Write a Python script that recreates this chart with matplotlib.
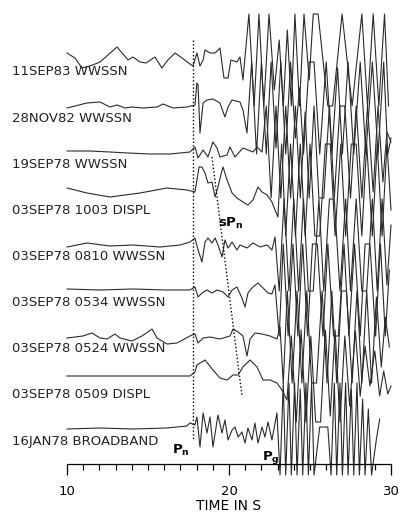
import numpy as np
import matplotlib.pyplot as plt

plt.rcParams['mathtext.fontset'] = 'dejavusans'

# ==== 標籤與基線 ====
names = ['11SEP83 WWSSN', '28NOV82 WWSSN', '19SEP78 WWSSN', '03SEP78 1003 DISPL',
         '03SEP78 0810 WWSSN', '03SEP78 0534 WWSSN', '03SEP78 0524 WWSSN',
         '03SEP78 0509 DISPL', '16JAN78 BROADBAND']
baselines = [60, 108, 152, 190, 245, 290, 337, 376, 429]
label_y = [71.5, 118, 164, 211, 256, 302, 348, 395, 442]
clip_amp = 46

# ==== 波形 (時間 s, 振幅) ====
trace1 = [(10.00, 7), (10.49, 2), (10.93, -8), (11.42, -6), (12.04, -2), (12.53, 5), (13.09, 13),
          (13.40, 7), (13.77, 0), (14.07, 3), (14.51, -2), (14.88, -3), (15.43, 3), (15.86, -8),
          (16.23, 0), (16.67, 7), (17.10, 2), (17.59, -4), (17.78, -6), (18.02, 7), (18.21, -6),
          (18.40, 0), (18.52, 10), (18.83, 7), (19.14, 7), (19.44, 12), (19.69, -18), (19.94, -18),
          (20.12, 0), (20.49, -2), (20.68, 3), (20.86, -20), (21.23, 70), (21.55, -70), (21.85, 70),
          (22.15, -70), (22.47, 70), (22.80, -30), (23.10, 20), (23.35, -60), (23.60, 30),
          (23.85, -70), (24.07, 70), (24.35, -70), (24.63, 70), (24.95, -20), (25.20, 75),
          (25.50, 75), (26.10, -75), (26.40, -75), (26.98, 70), (27.60, -70), (28.20, 70),
          (28.55, -70), (28.90, 70), (29.25, -70), (29.60, 70), (29.85, -50)]
trace2 = [(10.00, 0), (11.23, 5), (12.04, 6), (12.65, 1), (13.09, 3), (13.58, 0), (14.01, 1),
          (14.69, 0), (15.56, 1), (15.93, 4), (16.54, 0), (17.41, 1), (17.90, 3), (18.02, 25),
          (18.09, 23), (18.21, -25), (18.40, 5), (18.64, 8), (19.01, 9), (19.44, 5), (19.75, -9),
          (19.94, 1), (20.19, 8), (20.68, 6), (20.86, -2), (21.11, -25), (21.40, 70), (21.70, -70),
          (22.00, 70), (22.30, -70), (22.60, 60), (22.90, -40), (23.20, 70), (23.50, -70),
          (23.80, 70), (24.10, -30), (24.35, 20), (24.60, -70), (24.95, 75), (25.25, 75),
          (25.60, -70), (26.00, 70), (26.35, -70), (26.70, 40), (27.00, -70), (27.35, 70),
          (27.70, -70), (28.10, 70), (28.45, -70), (28.85, 70), (29.20, -70), (29.55, 60),
          (29.80, -50), (30.00, -30)]
trace3 = [(10.00, 1), (11.42, 1), (12.65, 0), (13.77, -1), (15.12, -2), (16.36, -2), (17.59, 0),
          (17.90, 5), (18.09, -6), (18.40, 2), (18.70, -5), (19.01, 10), (19.26, 4), (19.44, -5),
          (19.88, -3), (20.06, 5), (20.37, -5), (20.86, 4), (21.17, 2), (21.48, 0), (21.73, 5),
          (22.04, 0), (22.30, 70), (22.60, -70), (22.90, 70), (23.20, -60), (23.50, 70),
          (23.80, -70), (24.10, 65), (24.40, -70), (24.70, 40), (24.95, -60), (25.25, 70),
          (25.55, -75), (25.85, -75), (26.20, 70), (26.50, -70), (26.85, 75), (27.15, 75),
          (27.50, -70), (27.85, 70), (28.20, -70), (28.55, 70), (28.90, -40), (29.20, 50),
          (29.50, -30), (29.75, 20), (30.00, 10)]
trace4 = [(10.00, 2), (11.23, -3), (12.65, -7), (14.51, -3), (16.17, 2), (17.41, 0), (17.90, -2),
          (18.15, 23), (18.33, 23), (18.52, 17), (18.70, 7), (18.95, 8), (19.14, -7), (19.32, 3),
          (19.57, 20), (19.63, 23), (19.88, 10), (20.19, -3), (20.49, -8), (20.86, -12),
          (21.17, -15), (21.48, -10), (21.79, 3), (22.04, -2), (22.35, -5), (22.65, -12),
          (22.84, -20), (23.02, -27), (23.25, 60), (23.50, -70), (23.80, 70), (24.10, -70),
          (24.40, 70), (24.70, -70), (25.00, 70), (25.30, -75), (25.60, -75), (25.95, 70),
          (26.25, 75), (26.55, -70), (26.90, 70), (27.20, -70), (27.55, 75), (27.85, 75),
          (28.20, -70), (28.50, 70), (28.85, -70), (29.15, 60), (29.45, -60), (29.75, 50),
          (30.00, -20)]
trace5 = [(10.00, -2), (11.23, 2), (12.65, -1), (14.07, 0), (15.74, -2), (16.98, 0), (17.59, 3),
          (17.90, 7), (18.09, -5), (18.33, -17), (18.52, 3), (18.70, 7), (18.95, 2), (19.14, 7),
          (19.32, 0), (19.57, -12), (19.75, 5), (19.94, -3), (20.19, 3), (20.49, -5), (20.68, 0),
          (21.11, -3), (21.48, 2), (21.91, -2), (22.35, 0), (22.65, -5), (22.84, 8), (23.10, -70),
          (23.40, 70), (23.70, -70), (24.00, 70), (24.30, -65), (24.60, 70), (24.90, -75),
          (25.20, -75), (25.55, 70), (25.85, -70), (26.20, 75), (26.50, 75), (26.85, -70),
          (27.20, 70), (27.50, -70), (27.85, 70), (28.20, -75), (28.50, -75), (28.85, 70),
          (29.15, -60), (29.45, 60), (29.75, -40), (30.00, 20)]
trace6 = [(10.00, 1), (12.04, 0), (14.07, 1), (16.17, 0), (17.59, 0), (17.90, 3), (18.09, -7),
          (18.33, -3), (18.64, 0), (18.95, -3), (19.26, 0), (19.63, -2), (19.94, -7), (20.19, 0),
          (20.49, 3), (20.80, -8), (20.99, -17), (21.17, -3), (21.48, 3), (21.79, 7), (22.10, 2),
          (22.41, -3), (22.65, -4), (22.84, 5), (23.10, -60), (23.35, 60), (23.65, -70),
          (23.95, 70), (24.25, -70), (24.55, 70), (24.85, -70), (25.15, 75), (25.45, 75),
          (25.80, -70), (26.10, 70), (26.45, -75), (26.75, -75), (27.10, 70), (27.40, -70),
          (27.75, 70), (28.10, -70), (28.40, 75), (28.70, 75), (29.05, -70), (29.35, 50),
          (29.65, -50), (29.90, 20)]
trace7 = [(10.00, -1), (10.98, 1), (11.54, 4), (12.04, -1), (12.47, -2), (12.96, 3), (13.27, -1),
          (14.01, -4), (14.63, 1), (15.25, 8), (15.56, -1), (16.17, -7), (16.79, -6), (17.59, 1),
          (17.90, 3), (18.09, -6), (18.40, -1), (18.83, 0), (19.44, -2), (20.06, 1), (20.25, 8),
          (20.56, 5), (20.86, 1), (21.11, -19), (21.30, -2), (21.60, 4), (22.04, 3), (22.53, 1),
          (22.96, -2), (23.15, 10), (23.35, -60), (23.60, 60), (23.90, -70), (24.20, 70),
          (24.50, -70), (24.80, 70), (25.10, -75), (25.40, -75), (25.75, 70), (26.05, -70),
          (26.35, 70), (26.65, -60), (26.95, 75), (27.25, 75), (27.60, -70), (27.90, 60),
          (28.20, -70), (28.50, 60), (28.80, -50), (29.10, 40), (29.40, -30), (29.65, 20),
          (29.90, -10)]
trace8 = [(10.00, 0), (17.59, 0), (17.90, 4), (18.02, 11), (18.52, 16), (19.01, 6), (19.44, -2),
          (19.88, -4), (20.25, 1), (20.56, 1), (20.86, 9), (21.30, 16), (21.73, 9), (22.10, -4),
          (22.53, -4), (22.96, -7), (23.27, -14), (23.58, -24), (23.85, 40), (24.15, -50),
          (24.45, 50), (24.75, -60), (25.05, 40), (25.35, -70), (25.65, -70), (25.95, 50),
          (26.25, -40), (26.55, 60), (26.85, -60), (27.15, 40), (27.45, -30), (27.80, 45),
          (28.10, -20), (28.40, 30), (28.70, -10), (29.00, 25), (29.30, -20), (29.55, 5),
          (29.80, -18), (30.00, -10)]
trace9 = [(10.00, 0), (12.04, 1), (14.07, 0), (16.17, 1), (17.41, 3), (17.59, 6), (17.90, 4),
          (18.02, 12), (18.21, -18), (18.40, 16), (18.64, -4), (18.83, 12), (19.01, -18),
          (19.32, 14), (19.57, -4), (19.75, 9), (19.94, -11), (20.19, -1), (20.37, 2), (20.56, -8),
          (20.80, -3), (20.99, -14), (21.17, 1), (21.42, -11), (21.60, 6), (21.79, -14),
          (22.04, 2), (22.22, -8), (22.41, 7), (22.65, -11), (22.96, 16), (23.15, -70),
          (23.35, 60), (23.50, -70), (23.70, 50), (23.85, -70), (24.05, 60), (24.20, -70),
          (24.40, 40), (24.55, -70), (24.75, 60), (24.90, -70), (25.10, 50), (25.25, -70),
          (25.60, 2), (26.10, 2), (26.30, -70), (26.50, 60), (26.65, -70), (26.85, 50),
          (27.00, -70), (27.20, 60), (27.35, -70), (27.55, 40), (27.70, -70), (27.90, 50),
          (28.05, -70), (28.25, 30), (28.40, -60), (28.60, 20), (28.80, -47), (29.10, -10),
          (29.30, 10)]
traces = [trace1, trace2, trace3, trace4, trace5, trace6, trace7, trace8, trace9]

# ==== 相位標記 ====
pn_time = 17.8
pn_span = [40, 440]
spn_times = [18.95, 20.80]
spn_y = [157, 396]

fig = plt.figure(figsize=(4.01, 5.12), dpi=100)
ax = fig.add_axes([67 / 401, 48 / 512, 324 / 401, 464 / 512])
ax.set_xlim(10, 30)
ax.set_ylim(464, 0)

for tr, base, name, ly in zip(traces, baselines, names, label_y):
    t = np.array([p[0] for p in tr])
    a = np.clip(np.array([p[1] for p in tr]), -clip_amp, clip_amp)
    ax.plot(t, base - a, color='#2a2a2a', lw=0.8, clip_on=False)
    ax.text(6.6, ly, name, fontsize=9.5, va='center', ha='left', color='#222222')

ax.plot([pn_time, pn_time], pn_span, color='black', lw=1.0, ls=(0, (1, 1.6)))
ax.plot(spn_times, spn_y, color='black', lw=1.0, ls=(0, (1, 1.6)))

ax.text(17.05, 450, r'$\mathbf{P_n}$', fontsize=9.5, ha='center', va='center')
ax.text(20.1, 223, r'$\mathbf{sP_n}$', fontsize=9.5, ha='center', va='center')
ax.text(22.6, 457, r'$\mathbf{P_g}$', fontsize=9.5, ha='center', va='center')

for s in ['top', 'left', 'right']:
    ax.spines[s].set_visible(False)
ax.spines['bottom'].set_linewidth(0.9)
ax.set_yticks([])
ax.set_xticks([10, 20, 30])
ax.set_xticks(np.arange(10, 31), minor=True)
ax.tick_params(axis='x', which='major', direction='out', length=8, width=0.9, pad=7,
               labelsize=9.5)
ax.tick_params(axis='x', which='minor', direction='out', length=4, width=0.9)
ax.set_xlabel('TIME IN S', fontsize=10, labelpad=1)
ax.patch.set_visible(False)

fig.savefig('out.png', dpi=100)
